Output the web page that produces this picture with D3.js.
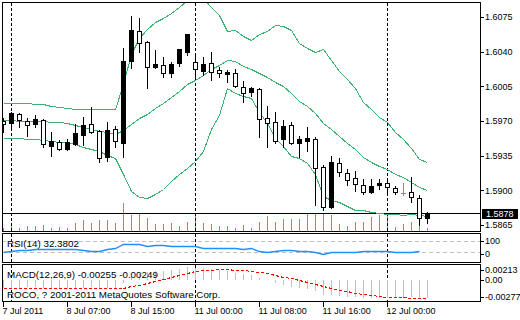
<!DOCTYPE html>
<html>
<head>
<meta charset="utf-8">
<script src="https://cdnjs.cloudflare.com/ajax/libs/d3/7.8.5/d3.min.js"></script>
<style>
  body { margin: 0; background: #fff; }
  svg { display: block; font-family: "Liberation Sans", Arial, sans-serif; font-size: 9px; }
  .axis path.domain { display: none; }
  .axis line { stroke: #000; shape-rendering: crispEdges; }
  .axis text { fill: #000; font-family: "Liberation Sans", Arial, sans-serif; font-size: 9px; }
  .panel-text { font-size: 9.8px; }
</style>
</head>
<body>
<div class="chart"></div>
<script>
var svgWidth = 520;
var svgHeight = 320;

// hourly bars, 7 Jul 23:00 .. 12 Jul 05:00
var openPrices = [1.5970, 1.5968, 1.5977, 1.5970, 1.5967, 1.5971, 1.5945, 1.5949, 1.5942, 1.5947,
  1.5956, 1.5967, 1.5960, 1.5934, 1.5962, 1.5948, 1.6030, 1.6061, 1.6050, 1.6024,
  1.6026, 1.6018, 1.6028, 1.6040, 1.6029, 1.6020, 1.6028, 1.6021, 1.6017, 1.6018,
  1.6004, 1.5999, 1.6002, 1.5973, 1.5969, 1.5952, 1.5966, 1.5948, 1.5950, 1.5952,
  1.5924, 1.5883, 1.5928, 1.5918, 1.5912, 1.5905, 1.5898, 1.5905, 1.5907, 1.5902,
  1.5897, 1.5898, 1.5892, 1.5872];
var highPrices = [1.5973, 1.5979, 1.5978, 1.5973, 1.5976, 1.5972, 1.5959, 1.5951, 1.5952, 1.5967,
  1.5974, 1.5984, 1.5961, 1.5969, 1.5965, 1.6044, 1.6076, 1.6074, 1.6051, 1.6042,
  1.6035, 1.6029, 1.6043, 1.6058, 1.6037, 1.6035, 1.6040, 1.6024, 1.6021, 1.6022,
  1.6010, 1.6004, 1.6003, 1.5985, 1.5979, 1.5971, 1.5969, 1.5955, 1.5964, 1.5954,
  1.5926, 1.5935, 1.5933, 1.5922, 1.5920, 1.5911, 1.5911, 1.5911, 1.5912, 1.5904,
  1.5907, 1.5913, 1.5895, 1.5878];
var lowPrices = [1.5959, 1.5964, 1.5964, 1.5955, 1.5964, 1.5944, 1.5935, 1.5941, 1.5941, 1.5946,
  1.5946, 1.5958, 1.5929, 1.5930, 1.5944, 1.5934, 1.6023, 1.6040, 1.6003, 1.6023,
  1.6014, 1.6014, 1.6025, 1.6037, 1.6013, 1.6016, 1.6011, 1.6014, 1.6009, 1.6004,
  1.5989, 1.5995, 1.5954, 1.5944, 1.5948, 1.5944, 1.5947, 1.5934, 1.5940, 1.5885,
  1.5880, 1.5882, 1.5914, 1.5905, 1.5899, 1.5896, 1.5897, 1.5901, 1.5897, 1.5896,
  1.5895, 1.5888, 1.5865, 1.5867];
var closePrices = [1.5967, 1.5978, 1.5971, 1.5966, 1.5972, 1.5947, 1.5950, 1.5942, 1.5949, 1.5958,
  1.5966, 1.5959, 1.5933, 1.5961, 1.5950, 1.6030, 1.6062, 1.6049, 1.6024, 1.6027,
  1.6018, 1.6027, 1.6043, 1.6058, 1.6022, 1.6027, 1.6019, 1.6018, 1.6019, 1.6005,
  1.5998, 1.6003, 1.5972, 1.5968, 1.5950, 1.5965, 1.5948, 1.5952, 1.5953, 1.5923,
  1.5883, 1.5929, 1.5919, 1.5910, 1.5906, 1.5898, 1.5904, 1.5907, 1.5903, 1.5898,
  1.5897, 1.5893, 1.5872, 1.58776];
var volumes = [300, 600, 300, 500, 500, 600, 300, 400, 300, 800,
  1100, 800, 1100, 1100, 800, 2800, 1600, 1800, 1300, 700,
  700, 800, 500, 900, 1800, 800, 700, 500, 500, 300,
  600, 300, 900, 1500, 900, 1200, 1200, 1200, 1800, 1800,
  1800, 1600, 700, 500, 900, 900, 1400, 1600, 1700, 400,
  700, 900, 1400, 300];

// bollinger bands
var bandUpper = [1.5988, 1.5988, 1.5988, 1.5988, 1.5987, 1.5987, 1.5985, 1.5984, 1.5983, 1.5982,
  1.5982, 1.5982, 1.5982, 1.5982, 1.5982, 1.6007, 1.6038, 1.6054, 1.6063, 1.6070,
  1.6074, 1.6079, 1.6085, 1.6092, 1.6094, 1.6094, 1.6085, 1.6077, 1.6061, 1.6062,
  1.6056, 1.6052, 1.6058, 1.6061, 1.6067, 1.6066, 1.6062, 1.6049, 1.6044, 1.6040,
  1.6043, 1.6031, 1.6020, 1.6012, 1.6003, 1.5989, 1.5982, 1.5974, 1.5969, 1.5959,
  1.5952, 1.5943, 1.5932, 1.5929];
var bandMiddle = [1.5971, 1.5971, 1.5970, 1.5970, 1.5970, 1.5970, 1.5969, 1.5969, 1.5968, 1.5966,
  1.5964, 1.5962, 1.5960, 1.5959, 1.5957, 1.5961, 1.5967, 1.5973, 1.5977, 1.5983,
  1.5988, 1.5994, 1.6000, 1.6007, 1.6011, 1.6016, 1.6022, 1.6026, 1.6031, 1.6030,
  1.6025, 1.6022, 1.6018, 1.6014, 1.6009, 1.6005, 1.5998, 1.5990, 1.5985, 1.5978,
  1.5968, 1.5962, 1.5955, 1.5948, 1.5942, 1.5934, 1.5929, 1.5925, 1.5922, 1.5917,
  1.5913, 1.5908, 1.5903, 1.5900];
var bandLower = [1.5953, 1.5953, 1.5953, 1.5952, 1.5952, 1.5951, 1.5950, 1.5949, 1.5949, 1.5947,
  1.5944, 1.5942, 1.5940, 1.5936, 1.5933, 1.5917, 1.5899, 1.5893, 1.5892, 1.5896,
  1.5901, 1.5909, 1.5917, 1.5923, 1.5930, 1.5940, 1.5962, 1.5976, 1.6003, 1.5998,
  1.5995, 1.5993, 1.5979, 1.5968, 1.5953, 1.5945, 1.5935, 1.5933, 1.5928, 1.5917,
  1.5894, 1.5890, 1.5888, 1.5884, 1.5880, 1.5880, 1.5878, 1.5877, 1.5876, 1.5876,
  1.5875, 1.5876, 1.5875, 1.5874];

var rsiValues = [30, 34, 37, 37, 41, 41, 41, 41, 41, 39,
  37, 35, 34, 41, 45, 59, 59, 59, 52, 55,
  54, 52, 52, 52, 52, 45, 45, 45, 45, 45,
  41, 43, 35, 30, 34, 36, 36, 35, 34, 30,
  23, 30, 30, 30, 30, 32, 34, 34, 34, 30,
  30, 30, 32.3802];

var macdMain = [-0.00111, -0.00106, -0.00106, -0.00101, -0.00101, -0.00106, -0.00111, -0.00116, -0.00116, -0.00111,
  -0.00106, -0.00101, -0.00111, -0.00106, -0.00106, -0.00040, 0.00039, 0.00091, 0.00111, 0.00127,
  0.00132, 0.00141, 0.00160, 0.00184, 0.00173, 0.00166, 0.00153, 0.00139, 0.00128, 0.00107,
  0.00084, 0.00069, 0.00030, -0.00002, -0.00043, -0.00062, -0.00090, -0.00108, -0.00119, -0.00152,
  -0.00206, -0.00211, -0.00220, -0.00231, -0.00240, -0.00251, -0.00253, -0.00247, -0.00244, -0.00243,
  -0.00240, -0.00239, -0.00253, -0.00255];
var macdSignal = [-0.00112, -0.00111, -0.00110, -0.00109, -0.00108, -0.00108, -0.00108, -0.00108, -0.00108, -0.00108,
  -0.00108, -0.00108, -0.00109, -0.00109, -0.00109, -0.00102, -0.00084, -0.00061, -0.00037, -0.00011,
  0.00015, 0.00043, 0.00073, 0.00105, 0.00129, 0.00143, 0.00150, 0.00153, 0.00153, 0.00150,
  0.00144, 0.00134, 0.00116, 0.00097, 0.00074, 0.00050, 0.00025, -0.00002, -0.00027, -0.00053,
  -0.00084, -0.00110, -0.00135, -0.00155, -0.00175, -0.00193, -0.00209, -0.00224, -0.00234, -0.00238,
  -0.00241, -0.00243, -0.00246, -0.00249];

var priceTicks = [1.6075, 1.6040, 1.6005, 1.5970, 1.5935, 1.5900, 1.5865];
var bidPrice = 1.58776;
var timeTickIndex = [0, 8, 16, 24, 32, 40, 48];
var timeTickLabels = ["7 Jul 2011", "8 Jul 07:00", "8 Jul 15:00", "11 Jul 00:00", "11 Jul 08:00", "11 Jul 16:00", "12 Jul 00:00"];
var separatorIndex = [1, 24, 48];
var rsiLevels = [70, 30];
var rsiTicks = [100, 0];
var macdTicks = [0.00213, 0, -0.00277];
var macdTickLabels = ["0.00213", "0.00", "-0.00277"];

// panel frames
var frameLeft = 2;
var frameRight = 480;
var mainPanel = { top: 2, bottom: 231 };
var rsiPanel = { top: 233, bottom: 262 };
var macdPanel = { top: 264, bottom: 301 };

var svg = d3.select(".chart")
  .append("svg")
  .attr("width", svgWidth)
  .attr("height", svgHeight);

var defs = svg.append("defs");

function addClip(id, p) {
  defs.append("clipPath")
    .attr("id", id)
    .append("rect")
    .attr("x", frameLeft + 1)
    .attr("y", p.top + 1)
    .attr("width", frameRight - frameLeft - 1)
    .attr("height", p.bottom - p.top - 1);
}
addClip("clip-main", mainPanel);
addClip("clip-rsi", rsiPanel);
addClip("clip-macd", macdPanel);

// Create scale functions
var x = d3.scaleLinear().domain([0, 53]).range([3, 427]);
var yPrice = d3.scaleLinear().domain([1.5859, 1.6090]).range([mainPanel.bottom, mainPanel.top]);
var yVol = d3.scaleLinear().domain([0, 2800]).range([mainPanel.bottom, mainPanel.bottom - 28]);
var yRsi = d3.scaleLinear().domain([0, 100]).range([260, 233]);
var yMacd = d3.scaleLinear().domain([-0.00277, 0.00213]).range([300, 265]);

function px(i) { return Math.round(x(i)) + 0.5; }
function snap(v) { return Math.round(v) + 0.5; }

var main = svg.append("g").attr("clip-path", "url(#clip-main)");
var rsi = svg.append("g").attr("clip-path", "url(#clip-rsi)");
var macd = svg.append("g").attr("clip-path", "url(#clip-macd)");

// volumes at the bottom of the price window
main.selectAll(".vol")
  .data(volumes)
  .enter()
  .append("line")
  .attr("class", "vol")
  .attr("x1", function(d, i) { return px(i); })
  .attr("x2", function(d, i) { return px(i); })
  .attr("y1", yVol(0))
  .attr("y2", function(d) { return Math.round(yVol(d)); })
  .attr("stroke", "#32cd32")
  .attr("shape-rendering", "crispEdges");

// period separators in all three windows
[[main, mainPanel], [rsi, rsiPanel], [macd, macdPanel]].forEach(function(pp) {
  pp[0].selectAll(".sep")
    .data(separatorIndex)
    .enter()
    .append("line")
    .attr("class", "sep")
    .attr("x1", function(d) { return px(d); })
    .attr("x2", function(d) { return px(d); })
    .attr("y1", pp[1].top + 1)
    .attr("y2", pp[1].bottom)
    .attr("stroke", "#000")
    .attr("stroke-dasharray", "3,2")
    .attr("shape-rendering", "crispEdges");
});

// bid line
main.append("line")
  .attr("x1", frameLeft)
  .attr("x2", frameRight)
  .attr("y1", snap(yPrice(bidPrice)))
  .attr("y2", snap(yPrice(bidPrice)))
  .attr("stroke", "#000")
  .attr("shape-rendering", "crispEdges");

// bands
var bandLine = d3.line()
  .x(function(d, i) { return px(i); })
  .y(function(d) { return snap(yPrice(d)); });

[bandUpper, bandMiddle, bandLower].forEach(function(b) {
  main.append("path")
    .datum(b)
    .attr("d", bandLine)
    .attr("fill", "none")
    .attr("stroke", "#3cb371")
    .attr("stroke-width", 1)
    .attr("shape-rendering", "crispEdges");
});

// candles
var candles = main.selectAll(".candle")
  .data(openPrices)
  .enter()
  .append("g")
  .attr("class", "candle");

candles.append("line")
  .attr("x1", function(d, i) { return px(i); })
  .attr("x2", function(d, i) { return px(i); })
  .attr("y1", function(d, i) { return Math.round(yPrice(highPrices[i])); })
  .attr("y2", function(d, i) { return Math.round(yPrice(lowPrices[i])) + 1; })
  .attr("stroke", function(d, i) { return openPrices[i] === closePrices[i] ? "#32cd32" : "#000"; })
  .attr("shape-rendering", "crispEdges");

candles.each(function(d, i) {
  var g = d3.select(this);
  var o = openPrices[i];
  var c = closePrices[i];
  if (o === c) {
    // doji
    g.append("line")
      .attr("x1", px(i) - 2.5)
      .attr("x2", px(i) + 2.5)
      .attr("y1", snap(yPrice(o)))
      .attr("y2", snap(yPrice(o)))
      .attr("stroke", "#32cd32")
      .attr("shape-rendering", "crispEdges");
    return;
  }
  var top = Math.round(yPrice(Math.max(o, c)));
  var bottom = Math.round(yPrice(Math.min(o, c)));
  g.append("rect")
    .attr("x", px(i) - 2)
    .attr("y", top + 0.5)
    .attr("width", 4)
    .attr("height", Math.max(bottom - top, 1))
    .attr("fill", c > o ? "#000" : "#fff")
    .attr("stroke", "#000")
    .attr("shape-rendering", "crispEdges");
});

// RSI window
rsi.selectAll(".level")
  .data(rsiLevels)
  .enter()
  .append("line")
  .attr("x1", frameLeft)
  .attr("x2", frameRight)
  .attr("y1", function(d) { return snap(yRsi(d)); })
  .attr("y2", function(d) { return snap(yRsi(d)); })
  .attr("stroke", "#c0c0c0")
  .attr("stroke-dasharray", "4,3")
  .attr("shape-rendering", "crispEdges");

rsi.append("path")
  .datum(rsiValues)
  .attr("d", d3.line()
    .x(function(d, i) { return px(i); })
    .y(function(d) { return snap(yRsi(d)); }))
  .attr("fill", "none")
  .attr("stroke", "#1e90ff")
  .attr("stroke-width", 1.3);

rsi.append("text")
  .attr("class", "panel-text")
  .attr("x", frameLeft + 5)
  .attr("y", 246.5)
  .text("RSI(14) " + rsiValues[rsiValues.length - 1].toFixed(4));

// MACD window
macd.selectAll(".hist")
  .data(macdMain)
  .enter()
  .append("line")
  .attr("x1", function(d, i) { return px(i); })
  .attr("x2", function(d, i) { return px(i); })
  .attr("y1", Math.round(yMacd(0)))
  .attr("y2", function(d) { return Math.round(yMacd(d)); })
  .attr("stroke", "#c0c0c0")
  .attr("shape-rendering", "crispEdges");

macd.append("path")
  .datum(macdSignal)
  .attr("d", d3.line()
    .x(function(d, i) { return px(i); })
    .y(function(d) { return snap(yMacd(d)); }))
  .attr("fill", "none")
  .attr("stroke", "#ff0000")
  .attr("stroke-dasharray", "3,2")
  .attr("shape-rendering", "crispEdges");

macd.append("text")
  .attr("class", "panel-text")
  .attr("x", frameLeft + 5)
  .attr("y", 278)
  .text("MACD(12,26,9) " + macdMain[macdMain.length - 1].toFixed(5) + " " + macdSignal[macdSignal.length - 1].toFixed(5));

macd.append("text")
  .attr("class", "panel-text")
  .attr("x", frameLeft + 5)
  .attr("y", 297.5)
  .text("ROCO, ? 2001-2011 MetaQuotes Software Corp.");

// frames
[mainPanel, rsiPanel, macdPanel].forEach(function(p) {
  svg.append("rect")
    .attr("x", frameLeft + 0.5)
    .attr("y", p.top + 0.5)
    .attr("width", frameRight - frameLeft)
    .attr("height", p.bottom - p.top)
    .attr("fill", "none")
    .attr("stroke", "#000")
    .attr("shape-rendering", "crispEdges");
});

// price axis
var rightAxis = d3.axisRight(yPrice)
  .tickValues(priceTicks)
  .tickFormat(d3.format(".4f"))
  .tickSize(3)
  .tickPadding(1);

svg.append("g")
  .attr("class", "axis")
  .attr("transform", "translate(" + (frameRight + 1) + ",0)")
  .call(rightAxis);

// bid label
var bidY = Math.round(yPrice(bidPrice));
svg.append("rect")
  .attr("x", frameRight + 2)
  .attr("y", bidY - 4)
  .attr("width", 36)
  .attr("height", 10)
  .attr("fill", "#000");
svg.append("text")
  .attr("x", frameRight + 6)
  .attr("y", bidY + 0.5)
  .attr("dy", "0.35em")
  .attr("fill", "#fff")
  .text(bidPrice.toFixed(4));

// labels of the indicator windows, kept inside the window
function windowLabels(values, labels, scale, p, padTop, padBottom) {
  var g = svg.append("g");
  values.forEach(function(v, i) {
    var yy = Math.max(p.top + padTop, Math.min(p.bottom - padBottom, scale(v)));
    g.append("line")
      .attr("x1", frameRight + 1)
      .attr("x2", frameRight + 4)
      .attr("y1", snap(yy))
      .attr("y2", snap(yy))
      .attr("stroke", "#000")
      .attr("shape-rendering", "crispEdges");
    g.append("text")
      .attr("x", frameRight + 5)
      .attr("y", snap(yy))
      .attr("dy", "0.32em")
      .text(labels[i]);
  });
}

windowLabels(rsiTicks, rsiTicks.map(String), yRsi, rsiPanel, 8, 8);
windowLabels(macdTicks, macdTickLabels, yMacd, macdPanel, 6, 4);

// time axis
var bottomAxis = d3.axisBottom(x)
  .tickValues(timeTickIndex)
  .tickFormat(function(d, i) { return timeTickLabels[i]; })
  .tickSize(5)
  .tickPadding(1);

svg.append("g")
  .attr("class", "axis")
  .attr("transform", "translate(0," + (macdPanel.bottom + 1) + ")")
  .call(bottomAxis)
  .selectAll("text")
  .attr("text-anchor", "start")
  .attr("x", -1);
</script>
</body>
</html>
